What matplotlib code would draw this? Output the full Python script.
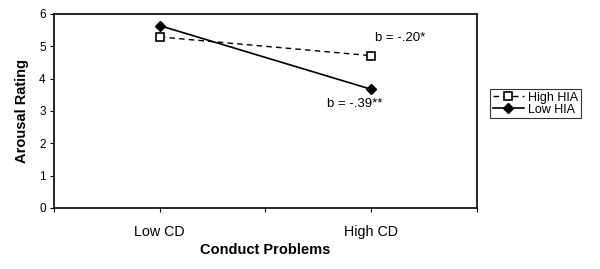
import matplotlib
matplotlib.use("Agg")
import matplotlib.pyplot as plt

plt.rcParams["font.family"] = ["Liberation Sans", "DejaVu Sans"]

categories = ["Low CD", "High CD"]
high_hia = [5.29, 4.71]
low_hia = [5.64, 3.67]
y_ticks = [0, 1, 2, 3, 4, 5, 6]
notes = ["b = -.20*", "b = -.39**"]

fig = plt.figure(figsize=(6.0, 2.69), dpi=100)
ax = fig.add_axes([0.09, 0.227, 0.705, 0.721])

x = [1, 2]
ax.plot(x, high_hia, color="black", lw=1.0, ls=(0, (4, 3)), marker="s",
        markersize=6, markerfacecolor="white", markeredgecolor="black",
        markeredgewidth=1.2, label="High HIA")
ax.plot(x, low_hia, color="black", lw=1.2, marker="D", markersize=5.5,
        markerfacecolor="black", markeredgecolor="black", label="Low HIA")

ax.set_xlim(0.5, 2.5)
ax.set_ylim(0, 6)
ax.set_yticks(y_ticks)
ax.tick_params(axis="y", labelsize=8.5, direction="out", length=3, width=0.8, pad=3)
ax.set_xticks([0.5, 1, 1.5, 2, 2.5])
ax.set_xticklabels(["", categories[0], "", categories[1], ""], fontsize=10.3)
ax.tick_params(axis="x", direction="out", length=3, width=0.8, pad=9)
for s in ax.spines.values():
    s.set_linewidth(1.2)

ax.set_ylabel("Arousal Rating", fontsize=10.5, fontweight="bold", labelpad=7)
ax.set_xlabel("Conduct Problems", fontsize=10.5, fontweight="bold", labelpad=3)

ax.text(2.02, high_hia[1] + 0.55, notes[0], fontsize=9.5, ha="left", va="center")
ax.text(1.79, low_hia[1] - 0.47, notes[1], fontsize=9.5, ha="left", va="center")

leg = fig.legend(loc="center", bbox_to_anchor=(0.892, 0.615), fontsize=9,
                 frameon=True, fancybox=False, handlelength=2.5,
                 handletextpad=0.3, borderpad=0.22, labelspacing=0.0,
                 borderaxespad=0)
leg.get_frame().set_edgecolor("black")
leg.get_frame().set_linewidth(0.8)

fig.savefig("out.png", dpi=100)
